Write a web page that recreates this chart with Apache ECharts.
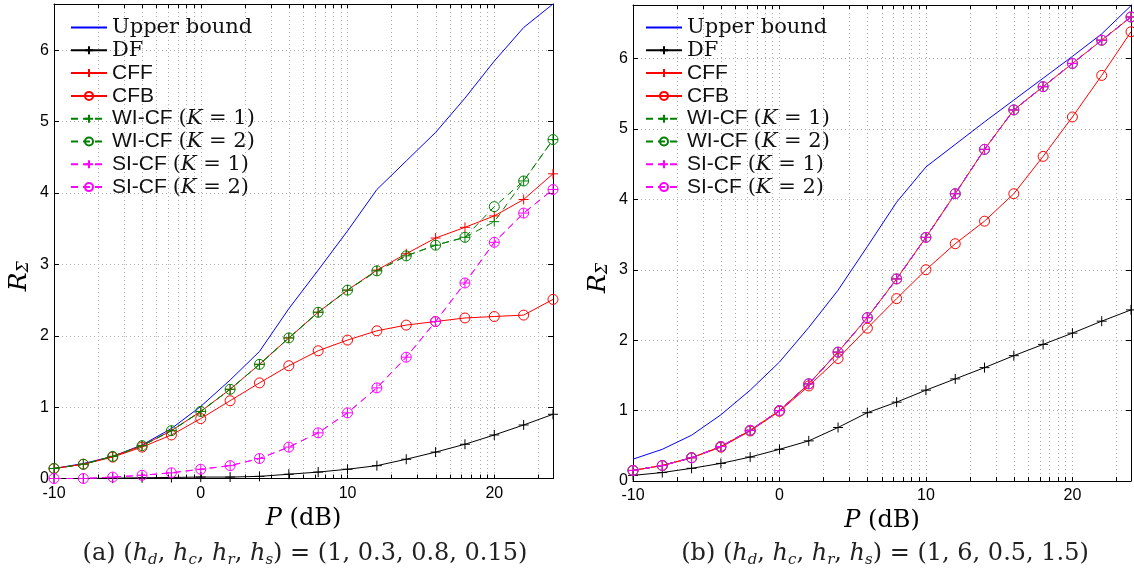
<!DOCTYPE html>
<html>
<head>
<meta charset="utf-8">
<script src="https://cdn.jsdelivr.net/npm/echarts@6/dist/echarts.min.js"></script>
<style>
html,body{margin:0;padding:0;background:#fff;}
#chart{width:1134px;height:574px;}
</style>
</head>
<body>
<div id="chart"></div>
<script>
// transmit power P (dB)
var P = [-10,-8,-6,-4,-2,0,2,4,6,8,10,12,14,16,18,20,22,24];

// (a) (hd,hc,hr,hs) = (1,0.3,0.8,0.15)
var upperA = [0.14,0.21,0.31,0.47,0.70,1.01,1.38,1.78,2.38,2.92,3.47,4.05,4.45,4.85,5.33,5.85,6.32,6.65];
var dfA    = [0.00,0.00,0.005,0.01,0.015,0.02,0.02,0.03,0.06,0.09,0.13,0.18,0.27,0.37,0.48,0.61,0.75,0.90];
var cffA   = [0.14,0.20,0.31,0.46,0.67,0.94,1.25,1.60,1.97,2.33,2.64,2.92,3.15,3.37,3.52,3.68,3.91,4.27];
var cfbA   = [0.14,0.20,0.30,0.44,0.61,0.84,1.09,1.34,1.58,1.79,1.94,2.07,2.15,2.20,2.25,2.27,2.29,2.51];
var wi1A   = [0.14,0.20,0.31,0.46,0.67,0.94,1.25,1.60,1.97,2.33,2.64,2.91,3.12,3.27,3.38,3.60,4.17,4.75];
var wi2A   = [0.14,0.20,0.31,0.46,0.67,0.94,1.25,1.60,1.97,2.33,2.64,2.91,3.12,3.27,3.38,3.81,4.17,4.75];
var si1A   = [0.00,0.00,0.02,0.045,0.08,0.13,0.18,0.28,0.44,0.64,0.92,1.27,1.70,2.20,2.74,3.31,3.72,4.05];
var si2A   = [0.00,0.00,0.02,0.045,0.08,0.13,0.18,0.28,0.44,0.64,0.92,1.27,1.70,2.20,2.74,3.31,3.72,4.05];

// (b) (hd,hc,hr,hs) = (1,6,0.5,1.5)
var upperB = [0.31,0.45,0.65,0.94,1.29,1.69,2.18,2.71,3.33,3.96,4.46,4.78,5.10,5.41,5.72,6.03,6.35,6.75];
var dfB    = [0.08,0.12,0.18,0.25,0.34,0.45,0.57,0.76,0.97,1.12,1.29,1.45,1.61,1.78,1.94,2.10,2.27,2.43];
var cffB   = [0.15,0.22,0.33,0.49,0.72,1.00,1.38,1.83,2.32,2.87,3.46,4.08,4.71,5.27,5.60,5.93,6.26,6.59];
var cfbB   = [0.15,0.22,0.33,0.48,0.71,0.99,1.35,1.74,2.17,2.59,3.00,3.37,3.69,4.08,4.61,5.17,5.76,6.38];
var wi1B   = [0.15,0.22,0.33,0.49,0.72,1.00,1.38,1.83,2.32,2.87,3.46,4.08,4.71,5.27,5.60,5.93,6.26,6.59];
var wi2B   = [0.15,0.22,0.33,0.49,0.72,1.00,1.38,1.83,2.32,2.87,3.46,4.08,4.71,5.27,5.60,5.93,6.26,6.59];
var si1B   = [0.15,0.22,0.33,0.49,0.72,1.00,1.38,1.83,2.32,2.87,3.46,4.08,4.71,5.27,5.60,5.93,6.26,6.59];
var si2B   = [0.15,0.22,0.33,0.49,0.72,1.00,1.38,1.83,2.32,2.87,3.46,4.08,4.71,5.27,5.60,5.93,6.26,6.59];

var names = ['Upper bound','DF','CFF','CFB','WI-CF (K = 1)','WI-CF (K = 2)','SI-CF (K = 1)','SI-CF (K = 2)'];

// tick marks: majors plus the odd log-style minor grid of the original figure
var xMajor = [-10,0,10,20];
var minorOffsets = [3.01,4.77,6.02,6.99,7.78,8.45,9.03,9.54];
var yTicks = [0,1,2,3,4,5,6];
var xTicks = [];
xMajor.forEach(function(d){
  xTicks.push(d);
  minorOffsets.forEach(function(o){ if (d+o <= 24) xTicks.push(d+o); });
});
xTicks.push(24);

var captions = [
  '{n|(a) (}{i|h}{sub|d}{n|, }{i|h}{sub|c}{n|, }{i|h}{sub|r}{n|, }{i|h}{sub|s}{n|) = (1, 0.3, 0.8, 0.15)}',
  '{n|(b) (}{i|h}{sub|d}{n|, }{i|h}{sub|c}{n|, }{i|h}{sub|r}{n|, }{i|h}{sub|s}{n|) = (1, 6, 0.5, 1.5)}'
];

var SERIF = '"DejaVu Serif", serif';
var SANS = '"Liberation Sans", Arial, sans-serif';
var PLUS = 'path://M5,0L5,10M0,5L10,5';
var NOFILL = 'rgba(0,0,0,0)';

function mk(name, vals, g, color, symbol, dashed){
  var circ = symbol === 'circle';
  var item = !symbol ? {color: NOFILL, borderColor: NOFILL, borderWidth: 0}
           : {color: circ ? NOFILL : color, borderColor: color, borderWidth: 1};
  return {
    name: name,
    type: 'line',
    xAxisIndex: g*2,
    yAxisIndex: g*2,
    data: P.map(function(x,i){ return [x, vals[i]]; }),
    symbol: symbol || 'none',
    symbolSize: 10,
    showSymbol: !!symbol,
    lineStyle: {color: color, width: 1, type: dashed ? [7,5] : 'solid'},
    itemStyle: item,
    emphasis: {disabled: true},
    z: 2
  };
}

function seriesFor(g, s){
  return [
    mk(names[0], s[0], g, '#0000ff', null, false),
    mk(names[1], s[1], g, '#000000', PLUS, false),
    mk(names[2], s[2], g, '#ff0000', PLUS, false),
    mk(names[3], s[3], g, '#ff0000', 'circle', false),
    mk(names[4], s[4], g, '#008000', PLUS, true),
    mk(names[5], s[5], g, '#008000', 'circle', true),
    mk(names[6], s[6], g, '#ff00ff', PLUS, true),
    mk(names[7], s[7], g, '#ff00ff', 'circle', true)
  ];
}

var axisLineStyle = {onZero: false, lineStyle: {color: '#000', width: 1}};
var gridLine = {show: true, lineStyle: {color: '#b0b0b0', width: 1, type: [1,3]}};

function xAxes(g){
  return [
    {type:'value', gridIndex:g, min:-10, max:24, position:'bottom',
     axisLine: axisLineStyle,
     axisTick: {inside:true, length:4, customValues: xTicks, lineStyle:{color:'#000'}},
     axisLabel: {customValues: xMajor, margin: 7, color:'#000', fontFamily: SANS, fontSize: 16},
     splitLine: gridLine,
     name: '{i|P}{n| (dB)}', nameLocation:'middle', nameGap: 18,
     nameTextStyle: {rich: {
       i: {fontFamily: SERIF, fontStyle:'italic', fontSize: 24, color:'#000', lineHeight: 28},
       n: {fontFamily: SERIF, fontSize: 24, color:'#000', lineHeight: 28}
     }}},
    {type:'value', gridIndex:g, min:-10, max:24, position:'top',
     axisLine: axisLineStyle,
     axisTick: {inside:true, length:4, customValues: xTicks, lineStyle:{color:'#000'}},
     axisLabel: {show:false},
     splitLine: {show:false}}
  ];
}

function yAxes(g, max){
  return [
    {type:'value', gridIndex:g, min:0, max:max, position:'left',
     axisLine: axisLineStyle,
     axisTick: {inside:true, length:5, customValues: yTicks, lineStyle:{color:'#000'}},
     axisLabel: {customValues: yTicks, margin: 5, color:'#000', fontFamily: SANS, fontSize: 16},
     splitLine: gridLine,
     name: '{i|R}{sub|Σ}', nameLocation:'middle', nameGap: 22, nameRotate: 90,
     nameTextStyle: {padding: [0, 70, 0, 0], rich: {
       i: {fontFamily: SERIF, fontStyle:'italic', fontSize: 25, color:'#000', lineHeight: 26, verticalAlign:'middle'},
       sub: {fontFamily: SERIF, fontStyle:'italic', fontSize: 16, color:'#000', lineHeight: 12, verticalAlign:'bottom'}
     }}},
    {type:'value', gridIndex:g, min:0, max:max, position:'right',
     axisLine: axisLineStyle,
     axisTick: {inside:true, length:5, customValues: yTicks, lineStyle:{color:'#000'}},
     axisLabel: {show:false},
     splitLine: {show:false}}
  ];
}

var legendRich = {
  s: {fontFamily: SERIF, fontSize: 21, color:'#111'},
  h: {fontFamily: SANS, fontSize: 21, color:'#111'},
  i: {fontFamily: SERIF, fontStyle:'italic', fontSize: 21, color:'#111'}
};
function legendLabel(n){
  var m = n.match(/^(WI-CF|SI-CF) \(K = (\d)\)$/);
  if (m) return '{h|' + m[1] + ' }{s|(}{i|K}{s| = ' + m[2] + ')}';
  if (n === 'CFF' || n === 'CFB') return '{h|' + n + '}';
  return '{s|' + n + '}';
}
function legendAt(left){
  return {
    data: names, orient:'vertical', left:left, top:17, padding:0,
    itemWidth:36, itemHeight:10, itemGap:1.8, selectedMode:false,
    formatter: legendLabel,
    textStyle: {rich: legendRich}
  };
}

var captionRich = {
  n: {fontFamily: SERIF, fontSize: 24, fontWeight:'normal', color:'#222', lineHeight: 28, verticalAlign:'middle'},
  i: {fontFamily: SERIF, fontStyle:'italic', fontWeight:'normal', fontSize: 24, color:'#222', lineHeight: 28, verticalAlign:'middle'},
  sub: {fontFamily: SERIF, fontStyle:'italic', fontWeight:'normal', fontSize: 15, color:'#222', lineHeight: 14, verticalAlign:'bottom'}
};

var chart = echarts.init(document.getElementById('chart'), null, {renderer:'canvas'});
chart.setOption({
  animation: false,
  backgroundColor: '#fff',
  title: [
    {text: captions[0], left: 300, top: 535, textAlign:'center', textStyle:{fontWeight:'normal', rich: captionRich}},
    {text: captions[1], left: 880, top: 535, textAlign:'center', textStyle:{fontWeight:'normal', rich: captionRich}}
  ],
  grid: [
    {left: 54, top: 4, width: 499, height: 474.5},
    {left: 633, top: 5, width: 498, height: 476}
  ],
  legend: [legendAt(70), legendAt(645)],
  xAxis: xAxes(0).concat(xAxes(1)),
  yAxis: yAxes(0, 6.65).concat(yAxes(1, 6.76)),
  series: seriesFor(0, [upperA,dfA,cffA,cfbA,wi1A,wi2A,si1A,si2A])
    .concat(seriesFor(1, [upperB,dfB,cffB,cfbB,wi1B,wi2B,si1B,si2B]))
});
</script>
</body>
</html>
